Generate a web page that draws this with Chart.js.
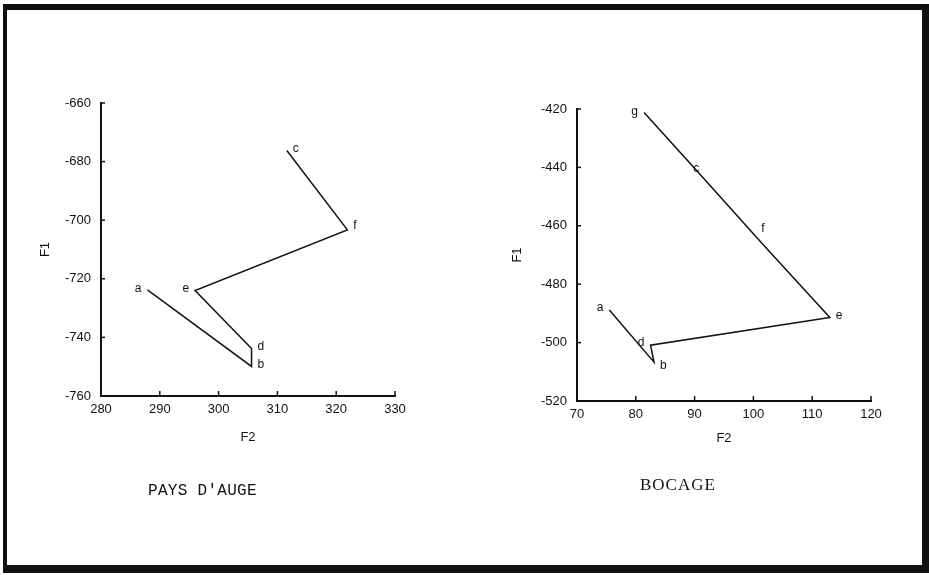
<!DOCTYPE html>
<html>
<head>
<meta charset="utf-8">
<script src="https://cdn.jsdelivr.net/npm/chart.js@4.4.1/dist/chart.umd.min.js"></script>
<style>
  html, body { margin:0; padding:0; background:#fff; }
  body { width:929px; height:575px; position:relative; overflow:hidden; }
  #frame { position:absolute; left:3px; top:4px; width:915px; height:555px;
           border-top:6px solid #111; border-left:4px solid #111; border-right:7px solid #111; border-bottom:8px solid #111; }
  canvas { position:absolute; top:0; }
  #c1 { left:0; }
  #c2 { left:470px; }
  .cap { position:absolute; color:#111; white-space:nowrap; }
  #cap1 { left:148px; top:482px; font-family:"Liberation Mono", monospace; font-size:16px; letter-spacing:0.3px; }
  #cap2 { left:640px; top:475px; font-family:"Liberation Serif", serif; font-size:17px; letter-spacing:1px; }
</style>
</head>
<body>
<div id="frame"></div>
<canvas id="c1" width="470" height="575"></canvas>
<canvas id="c2" width="459" height="575"></canvas>
<div class="cap" id="cap1">PAYS D'AUGE</div>
<div class="cap" id="cap2">BOCAGE</div>
<script>
// ---- PAYS D'AUGE ----
const paysLabels = ['a', 'b', 'd', 'e', 'f', 'c'];
const paysF2 = [287.9, 305.6, 305.6, 296.0, 321.9, 311.6];
const paysF1 = [-723.8, -749.9, -743.8, -724.0, -703.3, -676.2];
const paysXTicks = [280, 290, 300, 310, 320, 330];
const paysYTicks = [-660, -680, -700, -720, -740, -760];

// ---- BOCAGE ----
const bocLabels = ['a', 'b', 'd', 'e', 'f', 'c', 'g'];
const bocF2 = [75.5, 83.1, 82.5, 113.0, 101.6, 90.3, 81.4];
const bocF1 = [-488.8, -506.7, -500.9, -491.4, -466.3, -441.0, -421.2];
const bocXTicks = [70, 80, 90, 100, 110, 120];
const bocYTicks = [-420, -440, -460, -480, -500, -520];

const INK = '#111';
const tickFont = { family: '"Liberation Sans", Arial, sans-serif', size: 13 };

// inward tick marks + point letters
const decor = {
  id: 'decor',
  afterDatasetsDraw(chart, args, opts) {
    const ctx = chart.ctx;
    const xs = chart.scales.x, ys = chart.scales.y;
    const a = chart.chartArea;
    ctx.save();
    ctx.strokeStyle = INK;
    ctx.lineWidth = 1.5;
    ys.ticks.forEach(t => {
      const y = ys.getPixelForValue(t.value);
      ctx.beginPath(); ctx.moveTo(a.left, y); ctx.lineTo(a.left + 4, y); ctx.stroke();
    });
    xs.ticks.forEach(t => {
      const x = xs.getPixelForValue(t.value);
      ctx.beginPath(); ctx.moveTo(x, a.bottom); ctx.lineTo(x, a.bottom - 5); ctx.stroke();
    });
    // letters
    ctx.fillStyle = INK;
    ctx.font = '12px "Liberation Sans", Arial, sans-serif';
    ctx.textBaseline = 'middle';
    const meta = chart.getDatasetMeta(0);
    opts.labels.forEach((lab, i) => {
      const p = meta.data[i];
      const side = opts.sides[i];
      let dx = 0, dy = opts.dy ? opts.dy[i] : 0;
      if (side === 'l') { ctx.textAlign = 'right'; dx = -6; }
      else if (side === 'r') { ctx.textAlign = 'left'; dx = 6; }
      else { ctx.textAlign = 'center'; }
      ctx.fillText(lab, p.x + dx, p.y + dy);
    });
    ctx.restore();
  }
};

function makeChart(id, F2, F1, labels, xTicks, yTicks, geom, sides, dys) {
  const pts = F2.map((x, i) => ({ x: x, y: F1[i] }));
  const xMin = Math.min(...xTicks), xMax = Math.max(...xTicks);
  const yMin = Math.min(...yTicks), yMax = Math.max(...yTicks);
  return new Chart(document.getElementById(id), {
    type: 'scatter',
    data: { datasets: [{
      data: pts, showLine: true, borderColor: INK, borderWidth: 1.5,
      pointRadius: 0, tension: 0, fill: false
    }]},
    options: {
      responsive: false, animation: false, events: [],
      layout: { padding: geom.pad },
      plugins: { legend: { display: false }, tooltip: { enabled: false },
                 decor: { labels: labels, sides: sides, dy: dys } },
      scales: {
        x: {
          type: 'linear', min: xMin, max: xMax,
          afterBuildTicks: s => { s.ticks = xTicks.map(v => ({ value: v })); },
          afterFit: s => { s.height = geom.xh; },
          grid: { display: false, drawTicks: false },
          border: { display: true, color: INK, width: 2 },
          ticks: { color: INK, font: tickFont, padding: 6, maxRotation: 0 },
          title: { display: true, text: 'F2', color: INK, font: tickFont, padding: { top: geom.xtp, bottom: 0 } }
        },
        y: {
          type: 'linear', min: yMin, max: yMax,
          afterBuildTicks: s => { s.ticks = yTicks.map(v => ({ value: v })); },
          afterFit: s => { s.width = geom.yw; },
          grid: { display: false, drawTicks: false },
          border: { display: true, color: INK, width: 2 },
          ticks: { color: INK, font: tickFont, padding: 10 },
          title: { display: true, text: 'F1', color: INK, font: tickFont, padding: { top: geom.ytp, bottom: 0 } }
        }
      }
    },
    plugins: [decor]
  });
}

makeChart('c1', paysF2, paysF1, paysLabels, paysXTicks, paysYTicks,
  { pad: { left: 0, top: 103, right: 75, bottom: 130 }, xh: 49, yw: 101, xtp: 4, ytp: 38 },
  ['l', 'r', 'r', 'l', 'r', 'r'], [-1, -2, -2, -2, -4, -2]);

makeChart('c2', bocF2, bocF1, bocLabels, bocXTicks, bocYTicks,
  { pad: { left: 0, top: 109, right: 58, bottom: 129 }, xh: 45, yw: 107, xtp: 4, ytp: 40 },
  ['l', 'r', 'l', 'r', 'c', 'c', 'l'], [-2, 4, -3, -2, -16, -2, -1]);
</script>
</body>
</html>
